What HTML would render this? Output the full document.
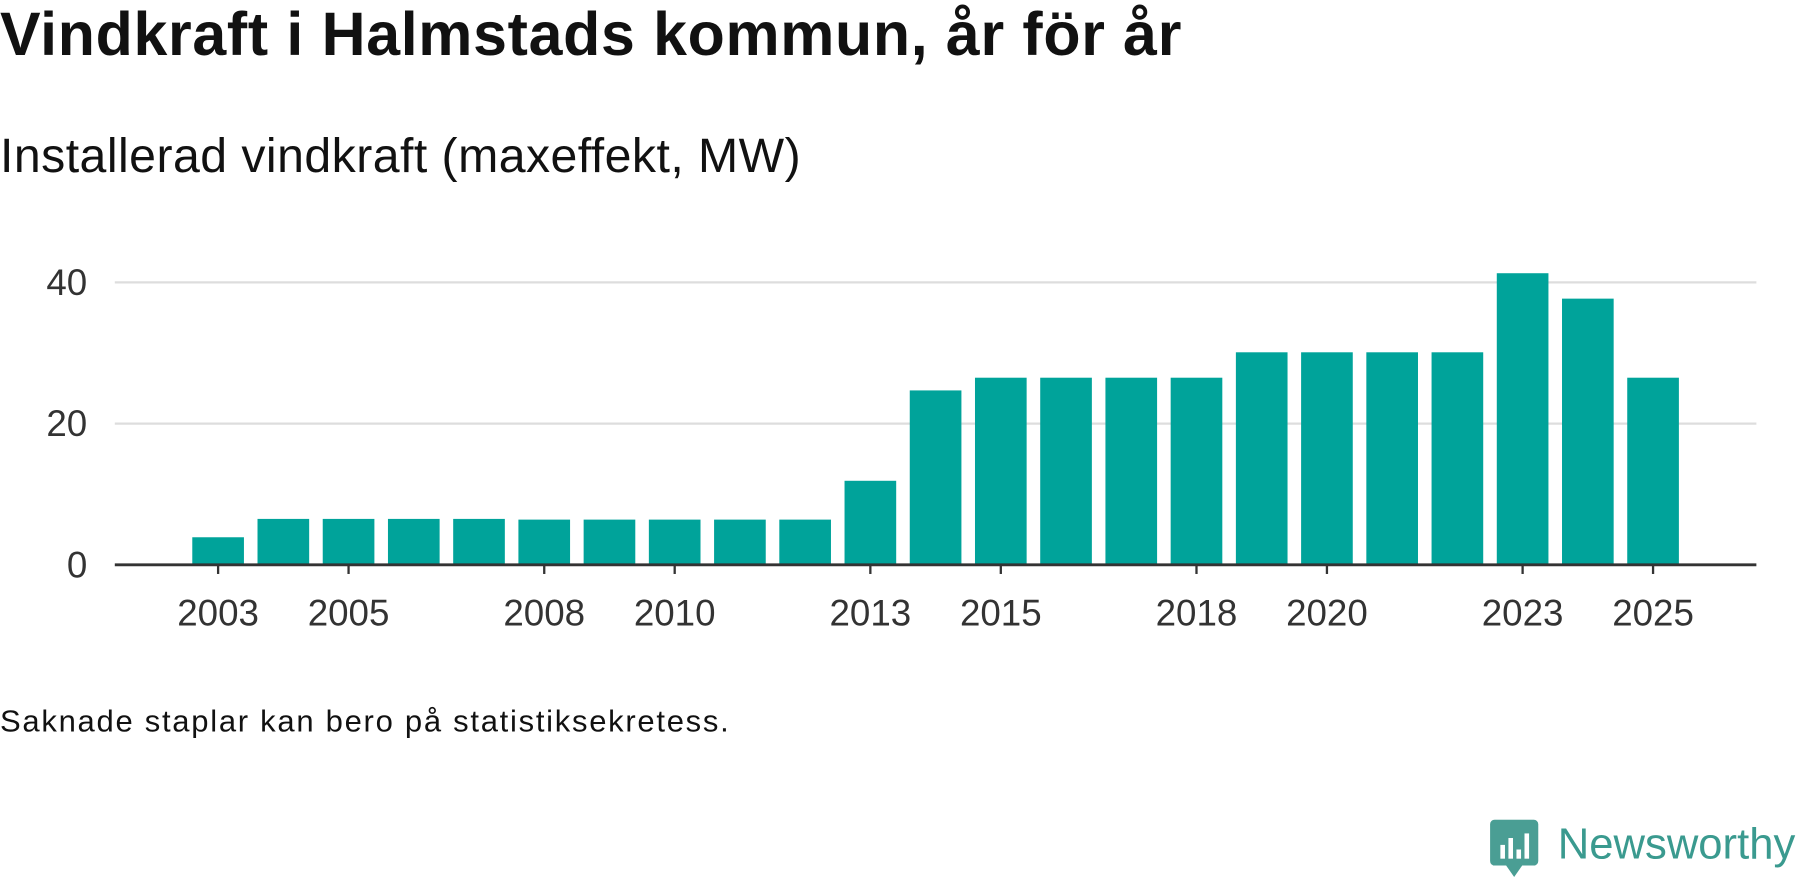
<!DOCTYPE html>
<html><head><meta charset="utf-8">
<style>
html,body{margin:0;padding:0;background:#fff;width:1800px;height:879px;overflow:hidden}
#wrap{width:1568px;height:766px;transform:scale(1.14796);transform-origin:0 0;position:relative;font-family:"Liberation Sans",sans-serif;color:#111}
#title{position:absolute;left:0;top:0px;font-size:53px;line-height:62px;font-weight:bold;margin:0;white-space:nowrap;letter-spacing:0.6px}
#subtitle{position:absolute;left:0;top:111px;font-size:42px;line-height:50px;white-space:nowrap;letter-spacing:0.4px}
#note{position:absolute;left:0;top:612px;font-size:27px;line-height:32px;white-space:nowrap;letter-spacing:1.5px}
#logo{position:absolute;left:1298px;top:714px}
svg text{font-family:"Liberation Sans",sans-serif}
</style></head><body>
<div id="wrap">
<h1 id="title">Vindkraft i Halmstads kommun, år för år</h1>
<div id="subtitle">Installerad vindkraft (maxeffekt, MW)</div>
<svg id="chart" width="1568" height="600" style="position:absolute;left:0;top:0"></svg>
<div id="note">Saknade staplar kan bero på statistiksekretess.</div>
<svg id="logo" width="270" height="54">
<rect x="0" y="0" width="42" height="40" rx="4" fill="#4a9e94"/>
<polygon points="14,40 28,40 21,50" fill="#4a9e94"/>
<rect x="9" y="22" width="4" height="12" fill="#fff"/><rect x="16" y="16" width="4" height="18" fill="#fff"/><rect x="23" y="26" width="4" height="8" fill="#fff"/><rect x="30" y="12" width="4" height="22" fill="#fff"/>
<text x="59" y="34" font-size="38" fill="#3a9a8f">Newsworthy</text>
</svg>
</div>
<script>
const years=[2003,2004,2005,2006,2007,2008,2009,2010,2011,2012,2013,2014,2015,2016,2017,2018,2019,2020,2021,2022,2023,2024,2025];
const values=[3.9,6.5,6.5,6.5,6.5,6.4,6.4,6.4,6.4,6.4,11.9,24.7,26.5,26.5,26.5,26.5,30.1,30.1,30.1,30.1,41.3,37.7,26.5];
const yTicks=[0,20,40];
const xTickLabels=[2003,2005,2008,2010,2013,2015,2018,2020,2023,2025];
const svg=document.getElementById('chart');const NS='http://www.w3.org/2000/svg';
const y0=492,pxPer=6.15,x0=190,step=(1440-190)/22,bw=45;
const yS=v=>y0-v*pxPer, xS=yr=>x0+(yr-years[0])*step;
function mk(t,a){const e=document.createElementNS(NS,t);for(const k in a)e.setAttribute(k,a[k]);svg.appendChild(e);return e;}
yTicks.forEach(v=>{
 if(v>0){const g=mk('line',{x1:100,x2:1530,y1:yS(v),y2:yS(v),stroke:'#ddd','stroke-width':2});
 
 }
 const t=mk('text',{x:76,y:yS(v)+11,'text-anchor':'end','font-size':32,fill:'#333'});t.textContent=v;
 
 
});
years.forEach((yr,i)=>{
 const r=mk('rect',{x:xS(yr)-bw/2,y:yS(values[i]),width:bw,height:values[i]*pxPer,fill:'#00a39a'});
 
 
});
const ax=mk('line',{x1:100,x2:1530,y1:y0,y2:y0,stroke:'#333','stroke-width':2.5});


xTickLabels.forEach(yr=>{
 const tk=mk('line',{x1:xS(yr),x2:xS(yr),y1:y0,y2:y0+8,stroke:'#333','stroke-width':2});
 
 
 const t=mk('text',{x:xS(yr),y:545,'text-anchor':'middle','font-size':32,fill:'#333'});t.textContent=yr;
 
 
});
</script>
</body></html>
